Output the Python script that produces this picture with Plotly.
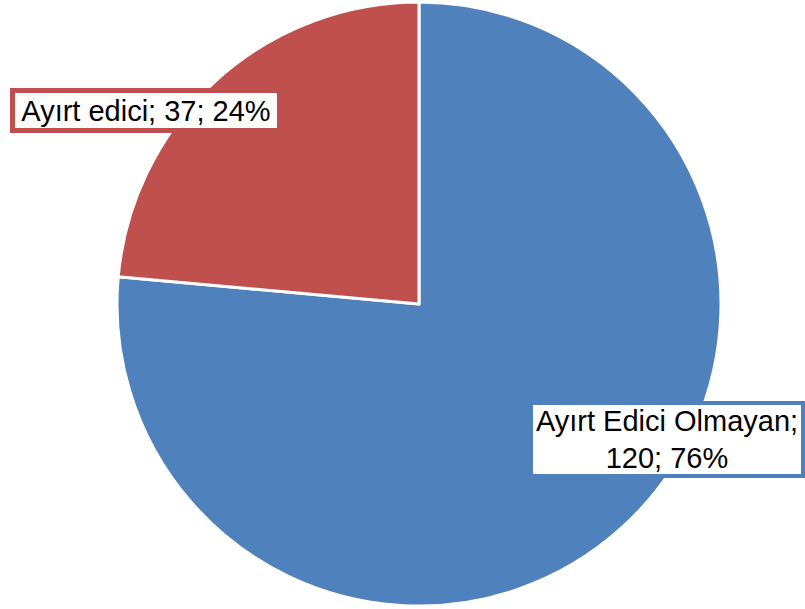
import plotly.graph_objects as go

labels = ["Ayırt Edici Olmayan", "Ayırt edici"]
values = [120, 37]
colors = ["#4F81BD", "#C0504D"]

total = sum(values)
pcts = [round(v * 100 / total) for v in values]

W, H = 805, 609
cx, cy, r = 419, 304, 302

fig = go.Figure(go.Pie(
    labels=labels, values=values, sort=False, direction="clockwise",
    rotation=0, textinfo="none", hoverinfo="label+value+percent",
    marker=dict(colors=colors, line=dict(color="white", width=3)),
    domain=dict(x=[(cx - r) / W, (cx + r) / W],
                y=[(H - cy - r) / H, (H - cy + r) / H]),
    showlegend=False,
))

font = dict(family="Liberation Sans, Arial, sans-serif", size=29, color="black")

fig.add_annotation(
    x=146 / W, y=(H - 110.5) / H, xref="paper", yref="paper",
    text=f"{labels[1]}; {values[1]}; {pcts[1]}%", showarrow=False,
    font=font, bgcolor="white", bordercolor=colors[1], borderwidth=5, borderpad=1,
    width=260, height=33, align="center", xanchor="center", yanchor="middle",
)
fig.add_annotation(
    x=667 / W, y=(H - 439.5) / H, xref="paper", yref="paper",
    text=f"{labels[0]};<br>{values[0]}; {pcts[0]}%", showarrow=False,
    font=font, bgcolor="white", bordercolor=colors[0], borderwidth=4, borderpad=1,
    width=266, height=67, align="center", xanchor="center", yanchor="middle",
)

fig.update_layout(
    width=W, height=H, margin=dict(l=0, r=0, t=0, b=0),
    paper_bgcolor="white", plot_bgcolor="white",
)
fig.write_html("out.html", config={"displayModeBar": False},
               post_script="document.body.style.margin='0';")
